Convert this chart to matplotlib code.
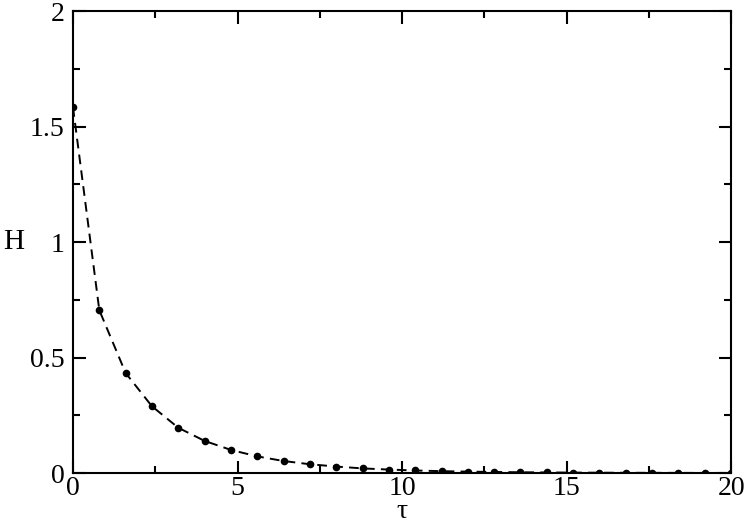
import numpy as np
import matplotlib
matplotlib.use('Agg')
import matplotlib.pyplot as plt
from matplotlib.ticker import MultipleLocator

# tau sampled every 0.8
tau = [0.0, 0.8, 1.6, 2.4, 3.2, 4.0, 4.8, 5.6, 6.4, 7.2, 8.0, 8.8, 9.6,
       10.4, 11.2, 12.0, 12.8, 13.6, 14.4, 15.2, 16.0, 16.8, 17.6, 18.4,
       19.2, 20.0]
H = [1.584, 0.705, 0.433, 0.289, 0.196, 0.139, 0.100, 0.072, 0.052, 0.038,
     0.028, 0.020, 0.015, 0.011, 0.008, 0.006, 0.0045, 0.0033, 0.0025,
     0.0018, 0.0014, 0.0010, 0.0008, 0.0006, 0.0004, 0.0003]

plt.rcParams['font.family'] = ['Liberation Serif', 'DejaVu Serif']

fig = plt.figure(figsize=(7.47, 5.25), dpi=100)
ax = fig.add_axes([0.0977, 0.099, 0.881, 0.880])

ax.plot(tau, H, color='k', lw=1.4, dashes=(5, 3.2), marker='o', ms=5.5,
        markeredgewidth=0)

ax.set_xlim(0, 20)
ax.set_ylim(0, 2)
ax.xaxis.set_major_locator(MultipleLocator(5))
ax.xaxis.set_minor_locator(MultipleLocator(2.5))
ax.yaxis.set_major_locator(MultipleLocator(0.5))
ax.yaxis.set_minor_locator(MultipleLocator(0.25))
ax.set_yticks([0, 0.5, 1, 1.5, 2])
ax.set_yticklabels(['0', '0.5', '1', '1.5', '2'])

ax.tick_params(which='both', direction='in', top=True, right=True,
               labelsize=20, width=1.5)
ax.tick_params(axis='x', pad=2)
ax.tick_params(axis='y', pad=6)
ax.tick_params(which='major', length=9)
ax.tick_params(which='minor', length=5)
for s in ax.spines.values():
    s.set_linewidth(1.5)

ax.set_xlabel(u'\u03c4', fontsize=20, labelpad=-1)
ax.set_ylabel('H', fontsize=21, rotation=0, labelpad=12, va='center')

plt.savefig('out.png', dpi=100)
